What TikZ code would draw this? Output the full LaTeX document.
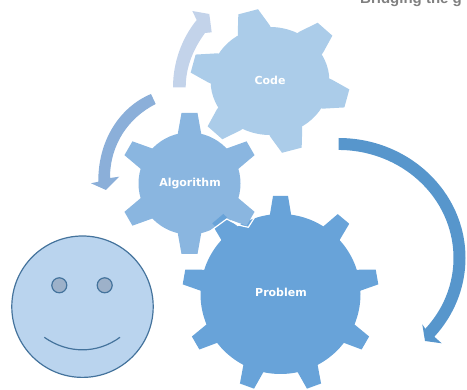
\documentclass[tikz,border=0pt]{standalone}
\usepackage{fontspec}
\setsansfont{DejaVu Sans}
\setmainfont{Liberation Sans}
\definecolor{codeblue}{HTML}{ABCCE9}
\definecolor{algoblue}{HTML}{8AB6E0}
\definecolor{probblue}{HTML}{68A3D9}
\definecolor{arrowone}{HTML}{5796CC}
\definecolor{arrowtwo}{HTML}{8BAFD9}
\definecolor{arrowthree}{HTML}{C3D3EA}
\definecolor{faceblue}{HTML}{BAD4EE}
\definecolor{faceline}{HTML}{44739C}
\definecolor{eyefill}{HTML}{9DB1C9}
\tikzset{
  gearlabel/.style={text=white,font=\sffamily\bfseries\fontsize{11}{12}\selectfont,inner sep=0pt},
  faceline/.style={draw=faceline,line width=1.2pt}
}
% fill, centre, xscale, body radius, tip radius, tooth angles, half widths
\newcommand{\gearwheel}[8]{
\begin{scope}[shift={#2},xscale=#3]
\fill[#1] (0,0) circle (#4);
\foreach \a in {#6}
  \fill[#1,rotate=\a] (#4-6,-#7-1)--(#4,-#7)--(#5,-#8)--(#5,#8)--(#4,#7)--(#4-6,#7+1)--cycle;
\end{scope}
}
\begin{document}
\begin{tikzpicture}[x=1pt,y=-1pt]
\useasboundingbox (0,0) rectangle (467,390);
\clip (0,0) rectangle (467,390);
\node[text=gray,font=\bfseries\fontsize{15}{15}\selectfont,anchor=base west,inner sep=0pt] (title) at (360,4) {Bridging the g};

% arrows
\fill[arrowthree] (173,87.5) .. controls (173,62) and (182,38) .. (196.7,20) -- (192.3,11) -- (209.3,14) -- (211.7,32.3)
  -- (205,33) .. controls (194,48) and (185.7,66) .. (185.7,87.5) -- cycle;
\fill[arrowtwo] (151,94) .. controls (120,107) and (98,140) .. (98.3,181.7) -- (91,183.3) -- (106,190) -- (119.3,176.7)
  -- (110,178) .. controls (110,145) and (128,118) .. (155.7,104) -- cycle;
\fill[arrowone] (338.5,138) arc[start angle=-90,end angle=41,x radius=127,y radius=120] -- (441.7,343.3) -- (425,341) -- (422.3,324.3)
  -- (425.3,328.8) arc[start angle=41,end angle=-90,x radius=115,y radius=108] -- cycle;

% gears
\gearwheel{codeblue}{(270,81)}{1.1}{54}{72}{-14,46,106,166,226,286}{15}{9.3}
\gearwheel{probblue}{(280.5,294)}{1}{80}{98}{90,50,10,-30,-70,-110,-150,170,130}{10.5}{7.5}
\gearwheel{algoblue}{(189.5,183.5)}{1}{51}{70.5}{90,30,-30,-90,-150,150}{11.5}{8}
\fill[probblue] (212.3,223.3)--(223.3,214)--(227.3,217.7)--(216,227.3)--cycle;
\draw[white,line width=1.2pt] (211.7,230)--(226.7,219)--(238.3,225)--(248.3,227.3)--(255,216.7);
\node[gearlabel] (code) at (270,80) {Code};
\node[gearlabel] (algorithm) at (190,184) {Algorithm};
\node[gearlabel] (problem) at (281,292) {Problem};

% face
\draw[faceline,fill=faceblue] (82.5,306.7) circle (70.7);
\draw[faceline,fill=eyefill] (59.3,285.3) circle (7.5);
\draw[faceline,fill=eyefill] (104.7,285.3) circle (7.5);
\draw[faceline] (44.3,337.3) .. controls (68,354) and (97,354) .. (120,337.3);
\end{tikzpicture}
\end{document}
